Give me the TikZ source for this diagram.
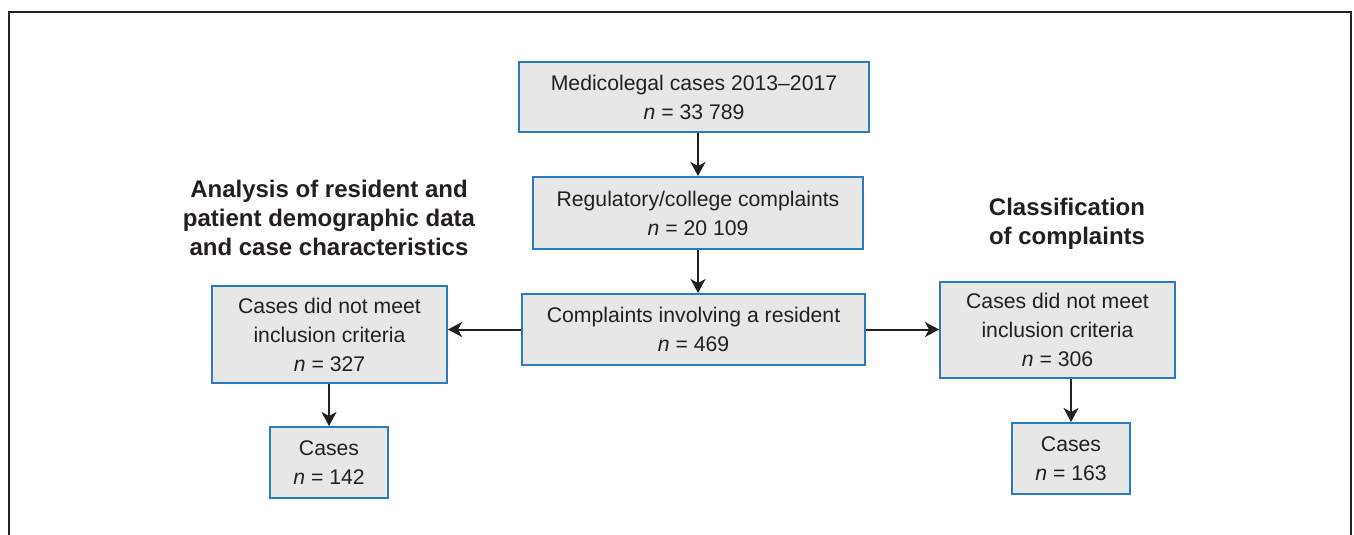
\documentclass[tikz,border=0pt]{standalone}
\usepackage{fontspec}
\setmainfont{Liberation Sans}
\usetikzlibrary{arrows.meta,calc}
\definecolor{boxblue}{RGB}{43,123,192}
\definecolor{boxgray}{RGB}{231,231,231}
\definecolor{inkgray}{RGB}{35,31,32}

\begin{document}
\begin{tikzpicture}[x=0.5pt,y=-0.5pt,>={Stealth[length=7pt,width=7.5pt,inset=2pt]},
   every node/.style={font=\fontsize{10.6}{14.5}\selectfont,text=inkgray},
   box/.style={draw=boxblue,fill=boxgray,line width=1pt,align=center,inner sep=0pt},
   heading/.style={align=center,font=\fontsize{12}{14.5}\selectfont\bfseries},
   arr/.style={->,draw=inkgray,line width=1pt}]
  \useasboundingbox (0,0) rectangle (1354,535);
  \draw[inkgray,line width=1pt] (9,535) -- (9,12) -- (1351,12) -- (1351,535);
  % main column
  \node (med) [box,minimum width=175pt,minimum height=35pt] at (694,97)
    {Medicolegal cases 2013--2017\\\textit{n} = 33~789};
  \node (reg) [box,minimum width=165pt,minimum height=36pt] at (698,213)
    {Regulatory/college complaints\\\textit{n} = 20~109};
  \node (res) [box,minimum width=171.5pt,minimum height=35.5pt] at (693.5,329.5)
    {Complaints involving a resident\\\textit{n} = 469};
  % left branch
  \node (headL) [heading] at (329,218)
    {Analysis of resident and\\patient demographic data\\and case characteristics};
  \node (exL) [box,minimum width=117.5pt,minimum height=48.5pt] at (329.5,334.5)
    {Cases did not meet\\inclusion criteria\\\textit{n} = 327};
  \node (casL) [box,minimum width=59pt,minimum height=35.5pt] at (329,462.5)
    {Cases\\\textit{n} = 142};
  % right branch
  \node (headR) [heading] at (1067,224)
    {Classification\\of complaints};
  \node (exR) [box,minimum width=117.5pt,minimum height=48pt] at (1057.5,330)
    {Cases did not meet\\inclusion criteria\\\textit{n} = 306};
  \node (casR) [box,minimum width=59pt,minimum height=35.5pt] at (1071,458.5)
    {Cases\\\textit{n} = 163};
  \draw[arr] (reg |- med.south) -- (reg.north);
  \draw[arr] (reg.south) -- (reg.south |- res.north);
  \draw[arr] (res.west) -- (res.west -| exL.east);
  \draw[arr] (res.east) -- (res.east -| exR.west);
  \draw[arr] (exL.south -| casL) -- (casL.north);
  \draw[arr] (exR.south -| casR) -- (casR.north);
\end{tikzpicture}
\end{document}
